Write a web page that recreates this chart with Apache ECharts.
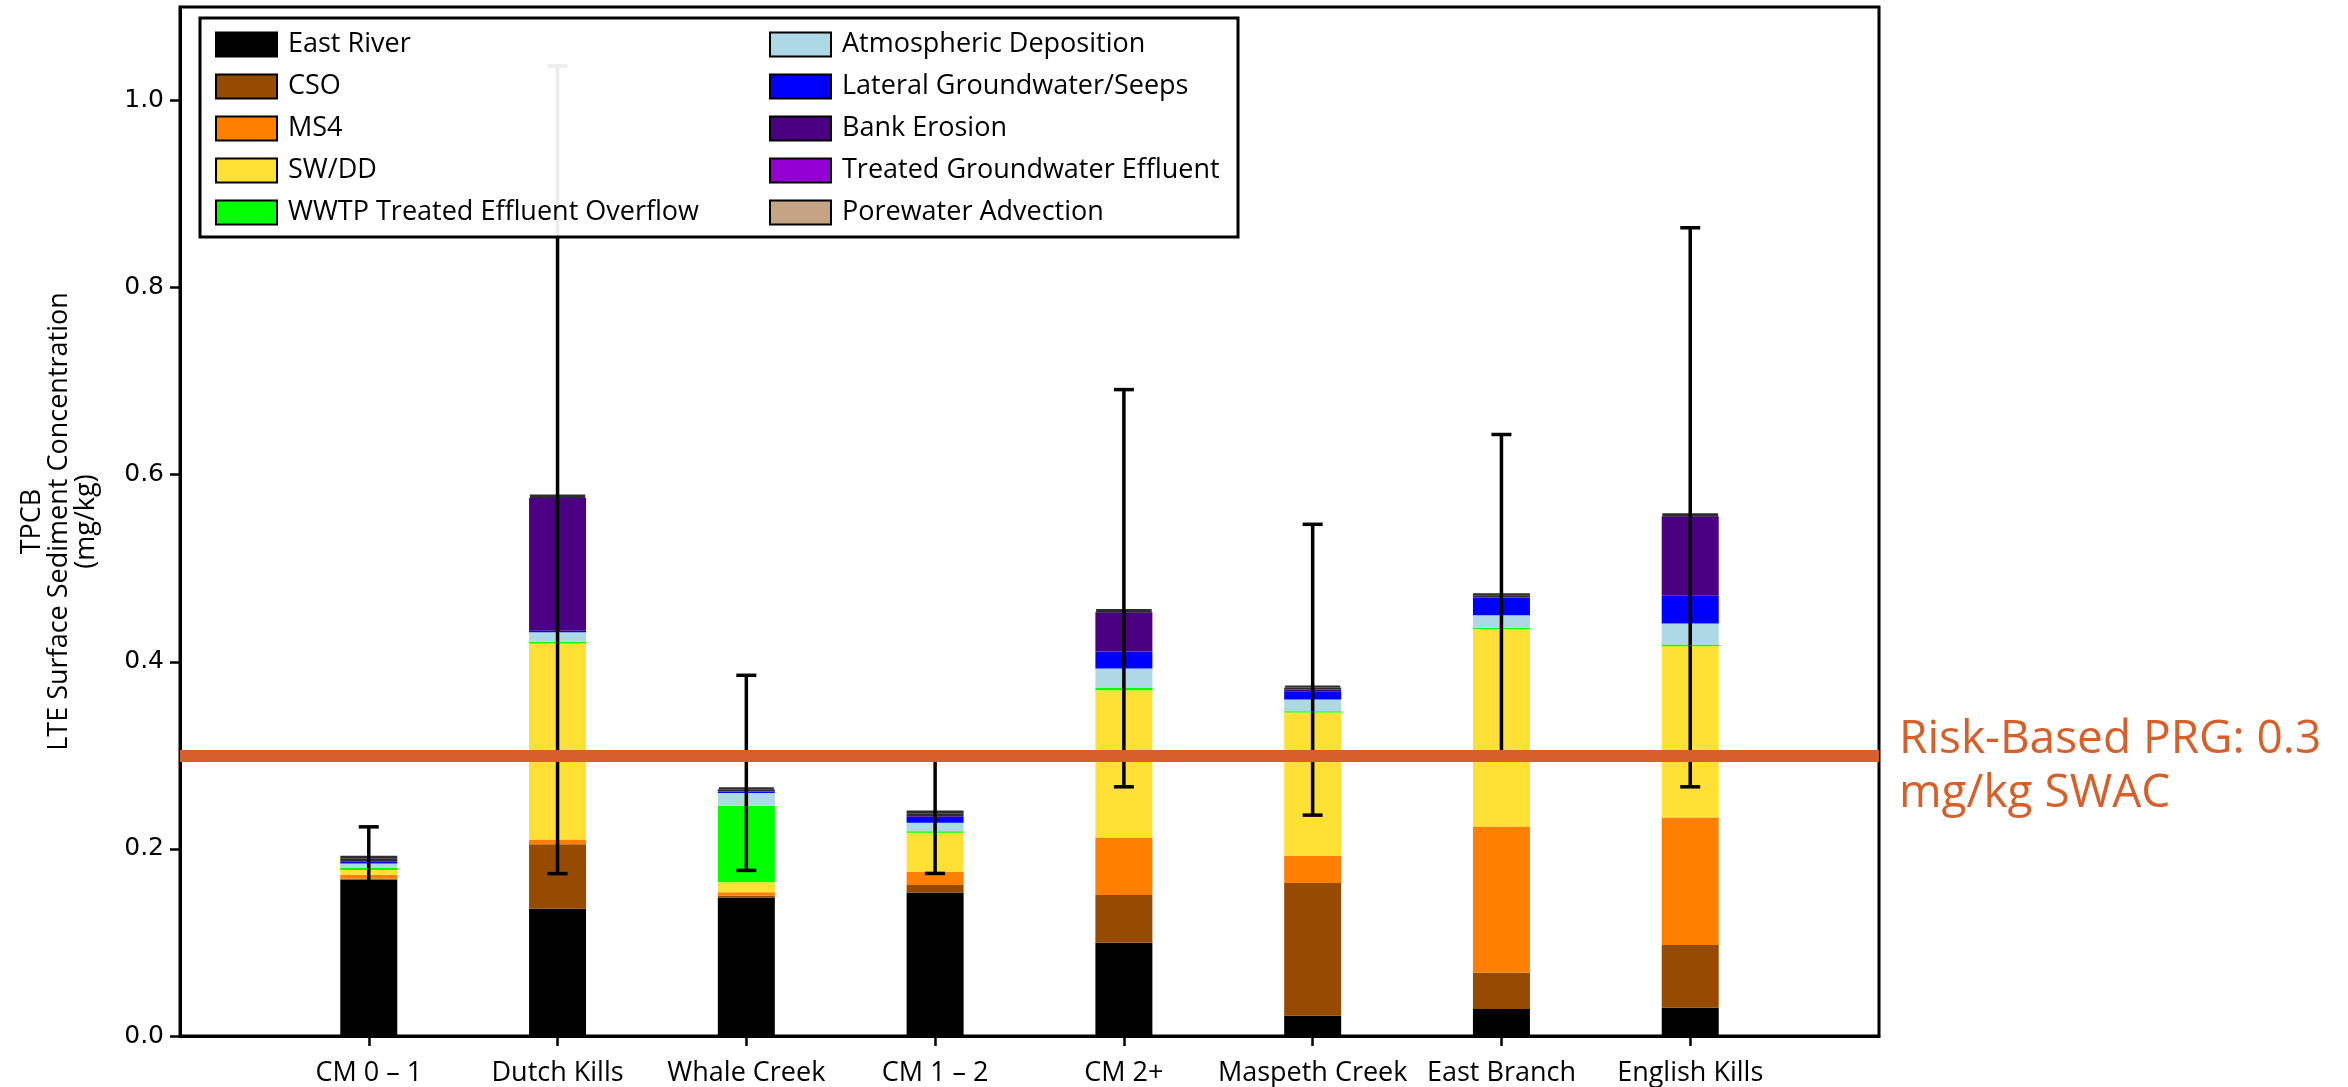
<!DOCTYPE html>
<html>
<head>
<meta charset="utf-8">
<script src="https://cdn.jsdelivr.net/npm/echarts@6/dist/echarts.min.js"></script>
<style>
  html, body { margin: 0; padding: 0; background: #ffffff; }
  #chart { width: 2348px; height: 1087px; }
</style>
</head>
<body>
<div id="chart"></div>
<script>
// Areas along the waterway
const categories = ['CM 0 – 1', 'Dutch Kills', 'Whale Creek', 'CM 1 – 2', 'CM 2+', 'Maspeth Creek', 'East Branch', 'English Kills'];

// TPCB contribution of each source (mg/kg), one value per area
const eastRiver       = [0.1670, 0.1360, 0.1480, 0.1535, 0.0997, 0.0217, 0.0288, 0.0303];
const cso             = [0.0015, 0.0690, 0.0020, 0.0078, 0.0509, 0.1418, 0.0392, 0.0669];
const ms4             = [0.0040, 0.0050, 0.0036, 0.0142, 0.0617, 0.0292, 0.1560, 0.1364];
const swdd            = [0.0050, 0.2095, 0.0107, 0.0417, 0.1574, 0.1531, 0.2112, 0.1830];
const wwtpOverflow    = [0.0020, 0.0020, 0.0819, 0.0018, 0.0028, 0.0014, 0.0011, 0.0020];
const atmospheric     = [0.0050, 0.0100, 0.0135, 0.0089, 0.0203, 0.0125, 0.0135, 0.0224];
const lateralGW       = [0.0014, 0.0017, 0.0014, 0.0064, 0.0182, 0.0089, 0.0185, 0.0295];
const bankErosion     = [0.0005, 0.1420, 0.0005, 0.0010, 0.0420, 0.0018, 0.0005, 0.0852];
const treatedGW       = [0.0032, 0.0018, 0.0022, 0.0028, 0.0016, 0.0022, 0.0023, 0.0014];
const porewater       = [0.0032, 0.0017, 0.0021, 0.0029, 0.0016, 0.0021, 0.0023, 0.0014];

// Uncertainty range of the total concentration
const errLow  = [0.160, 0.1736, 0.177, 0.1738, 0.2664, 0.2361, 0.2977, 0.2664];
const errHigh = [0.2236, 1.037, 0.3856, 0.3008, 0.691, 0.547, 0.643, 0.864];

// Axis ticks and the remediation goal
const yTicks = [0, 0.2, 0.4, 0.6, 0.8, 1.0];
const prgValue = 0.3;
const prgText = 'Risk-Based PRG: 0.3\nmg/kg SWAC';

const sources = [
  { name: 'East River', color: '#000000', data: eastRiver },
  { name: 'CSO', color: '#964B00', data: cso },
  { name: 'MS4', color: '#FF8000', data: ms4 },
  { name: 'SW/DD', color: '#FFE135', data: swdd },
  { name: 'WWTP Treated Effluent Overflow', color: '#00FF00', data: wwtpOverflow },
  { name: 'Atmospheric Deposition', color: '#ADD8E6', data: atmospheric },
  { name: 'Lateral Groundwater/Seeps', color: '#0000FF', data: lateralGW },
  { name: 'Bank Erosion', color: '#4B0082', data: bankErosion },
  { name: 'Treated Groundwater Effluent', color: '#9400D3', data: treatedGW, edge: true },
  { name: 'Porewater Advection', color: '#C4A484', data: porewater, edge: true }
];

// Empty slots at both ends give the half-interval margins of the x range
const axisCategories = [' ', ...categories, '  '];
const pad = arr => ['-', ...arr, '-'];

const FONT = '"Open Sans", "Noto Sans", sans-serif';
const PRG_COLOR = '#D65F2A';

const barSeries = sources.map(s => ({
  name: s.name,
  type: 'bar',
  stack: 'total',
  barWidth: 57,
  z: 2,
  itemStyle: s.edge
    ? { color: s.color, borderColor: '#2d2d2d', borderWidth: 2 }
    : { color: s.color },
  emphasis: { disabled: true },
  data: pad(s.data)
}));

const errorData = categories.map((c, i) => [i + 1, errLow[i], errHigh[i]]);

const errorSeries = {
  name: 'error',
  type: 'custom',
  z: 3,
  encode: { x: 0, y: [1, 2] },
  data: errorData,
  renderItem: function (params, api) {
    const x = api.value(0);
    const lo = api.coord([x, api.value(1)]);
    const hi = api.coord([x, api.value(2)]);
    const cap = 10;
    const st = { stroke: '#000000', lineWidth: 3.5 };
    return {
      type: 'group',
      children: [
        { type: 'line', shape: { x1: lo[0], y1: lo[1], x2: hi[0], y2: hi[1] }, style: st },
        { type: 'line', shape: { x1: lo[0] - cap, y1: lo[1], x2: lo[0] + cap, y2: lo[1] }, style: st },
        { type: 'line', shape: { x1: hi[0] - cap, y1: hi[1], x2: hi[0] + cap, y2: hi[1] }, style: st }
      ]
    };
  }
};

const prgSeries = {
  name: 'prg',
  type: 'line',
  z: 4,
  data: [],
  markLine: {
    silent: true,
    symbol: ['none', 'none'],
    lineStyle: { color: PRG_COLOR, width: 12, type: 'solid' },
    label: { show: false },
    data: [{ yAxis: prgValue }]
  }
};

const legendNames = sources.map(s => s.name);
const legendCommon = {
  orient: 'vertical',
  top: 26,
  itemWidth: 61,
  itemHeight: 24,
  itemGap: 15,
  icon: 'rect',
  z: 11,
  selectedMode: false,
  itemStyle: { borderColor: '#000000', borderWidth: 2 },
  textStyle: { fontFamily: FONT, fontSize: 27, color: '#000000', padding: [0, 0, 0, 6] }
};

const GRID = { left: 180, right: 469, top: 7, bottom: 51 };

const chart = echarts.init(document.getElementById('chart'), null, { renderer: 'canvas' });

chart.setOption({
  backgroundColor: '#ffffff',
  animation: false,
  grid: Object.assign({
    show: true, borderColor: '#000000', borderWidth: 3, backgroundColor: 'transparent'
  }, GRID),
  legend: [
    Object.assign({}, legendCommon, { left: 210, data: legendNames.slice(0, 5) }),
    Object.assign({}, legendCommon, { left: 764, data: legendNames.slice(5) })
  ],
  graphic: [{
    id: 'legendFrame',
    type: 'rect',
    z: 10,
    shape: { x: 200, y: 18, width: 1038, height: 219 },
    style: { fill: 'rgba(255,255,255,0.93)', stroke: '#000000', lineWidth: 3 }
  }],
  xAxis: {
    type: 'category',
    data: axisCategories,
    boundaryGap: false,
    axisLine: { show: true, lineStyle: { color: '#000000', width: 3 } },
    axisTick: {
      show: true, length: 10, inside: false,
      interval: (i) => i > 0 && i < axisCategories.length - 1,
      lineStyle: { color: '#000000', width: 2.5 }
    },
    axisLabel: {
      interval: 0,
      margin: 24,
      fontFamily: FONT,
      fontSize: 27,
      color: '#000000'
    },
    splitLine: { show: false }
  },
  yAxis: {
    type: 'value',
    min: 0,
    max: 1.1,
    name: 'TPCB\nLTE Surface Sediment Concentration\n(mg/kg)',
    nameLocation: 'middle',
    nameRotate: 90,
    nameGap: 80,
    nameTextStyle: { fontFamily: FONT, fontSize: 27, lineHeight: 27, color: '#000000', align: 'center' },
    axisLine: { show: true, lineStyle: { color: '#000000', width: 3 } },
    axisTick: {
      show: true, length: 10, inside: false,
      customValues: yTicks,
      lineStyle: { color: '#000000', width: 2.5 }
    },
    axisLabel: {
      customValues: yTicks,
      formatter: v => v.toFixed(1),
      margin: 16,
      fontFamily: '"DejaVu Sans", sans-serif',
      fontSize: 25,
      color: '#000000'
    },
    splitLine: { show: false }
  },
  series: [...barSeries, errorSeries, prgSeries]
});

// Annotation for the goal line, placed just right of the plot and anchored to the line's value
const prgY = chart.convertToPixel({ yAxisIndex: 0 }, prgValue);
const plotRight = chart.getWidth() - GRID.right;
chart.setOption({
  graphic: [{
    id: 'prgLabel',
    type: 'text',
    z: 12,
    x: plotRight + 20,
    y: prgY - 42,
    style: {
      text: prgText,
      fill: PRG_COLOR,
      font: '46px "Open Sans", "Noto Sans", sans-serif',
      lineHeight: 54,
      align: 'left',
      verticalAlign: 'top'
    }
  }]
});
</script>
</body>
</html>
